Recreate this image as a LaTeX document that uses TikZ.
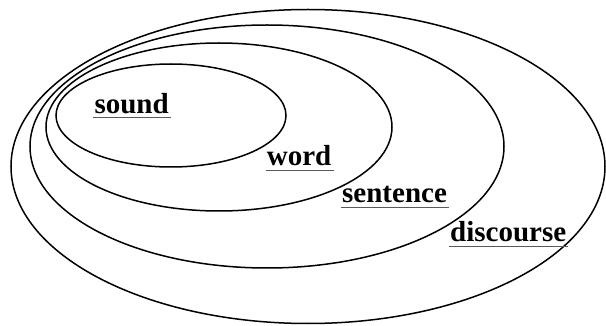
\documentclass[tikz,border=0pt]{standalone}
\usepackage{fontspec}
\setmainfont{Liberation Serif}
\begin{document}
\begin{tikzpicture}[x=1pt,y=-1pt,
  ring/.style={draw=black,line width=1.5pt},
  lbl/.style={anchor=base west,inner sep=0pt,font=\fontsize{29}{30}\selectfont\bfseries},
  ul/.style={draw=black!65,line width=1pt}]
\useasboundingbox[fill=white] (0,0) rectangle (606,326);
\draw[ring] (308,166.5) ellipse [x radius=297pt, y radius=157pt];
\draw[ring] (267,146.5) ellipse [x radius=237pt, y radius=121.5pt];
\draw[ring] (219,127) ellipse [x radius=173pt, y radius=84pt];
\draw[ring] (171,115.5) ellipse [x radius=115pt, y radius=51.5pt];
\node[lbl] (sound) at (94.3,113.3) {sound};
\node[lbl] (word) at (266.7,166) {word};
\node[lbl] (sentence) at (342,203) {sentence};
\node[lbl] (discourse) at (450,241.7) {discourse};
\foreach \n in {sound,word,sentence,discourse}{
  \draw[ul] ([xshift=-1pt,yshift=-4.5pt]\n.base west) -- ([xshift=2pt,yshift=-4.5pt]\n.base east);
}
\end{tikzpicture}
\end{document}
